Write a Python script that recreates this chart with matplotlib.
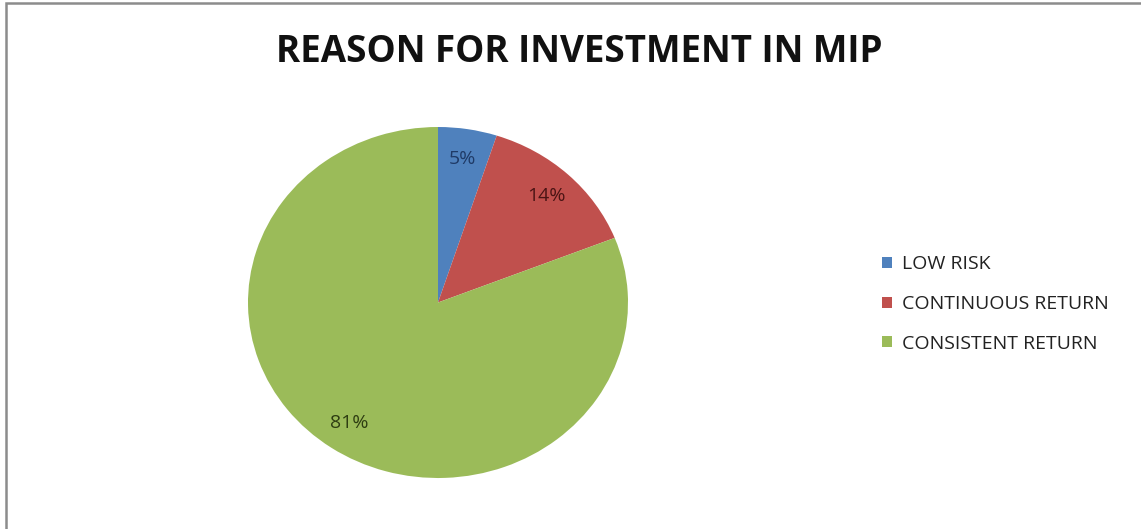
import matplotlib
matplotlib.use("Agg")
import matplotlib.pyplot as plt
from matplotlib.patches import Rectangle

plt.rcParams['font.family'] = ['Open Sans', 'DejaVu Sans']

# survey shares, percent
reasons = ['LOW RISK', 'CONTINUOUS RETURN', 'CONSISTENT RETURN']
shares = [5, 14, 81]
colors = ['#4F81BD', '#C0504D', '#9BBB59']
label_colors = ['#1F3A66', '#4A1414', '#2E3D12']

W, H = 1141, 529
fig = plt.figure(figsize=(W / 100, H / 100), dpi=100)

# chart frame (only top and left edges fall inside the image)
fig.patches.append(Rectangle((6 / W, -0.1), 1.2, (H - 3) / H + 0.1,
                             transform=fig.transFigure, fill=False,
                             edgecolor='#8c8c8c', linewidth=1.8))

fig.text(579 / W, 1 - 52 / H, 'REASON FOR INVESTMENT IN MIP',
         ha='center', va='center', fontsize=26.5, fontweight='bold',
         color='#111111')

ax = fig.add_axes([248 / W, 51 / H, 380 / W, 351 / H])
wedges, texts, autotexts = ax.pie(shares, colors=colors, startangle=90,
                                  counterclock=False, autopct='%d%%',
                                  pctdistance=0.83,
                                  wedgeprops=dict(linewidth=0))
for t, c in zip(autotexts, label_colors):
    t.set_color(c)
    t.set_fontsize(14)
ax.set_aspect('auto')
ax.set_xlim(-1, 1)
ax.set_ylim(-1, 1)

fig.legend(wedges, reasons, loc='center left',
           bbox_to_anchor=(882 / W, 1 - 304 / H), frameon=False,
           borderaxespad=0, borderpad=0,
           fontsize=14, handlelength=0.5, handleheight=0.5,
           handletextpad=0.55, labelspacing=1.12, labelcolor='#222222')

fig.savefig('out.png', dpi=100)
